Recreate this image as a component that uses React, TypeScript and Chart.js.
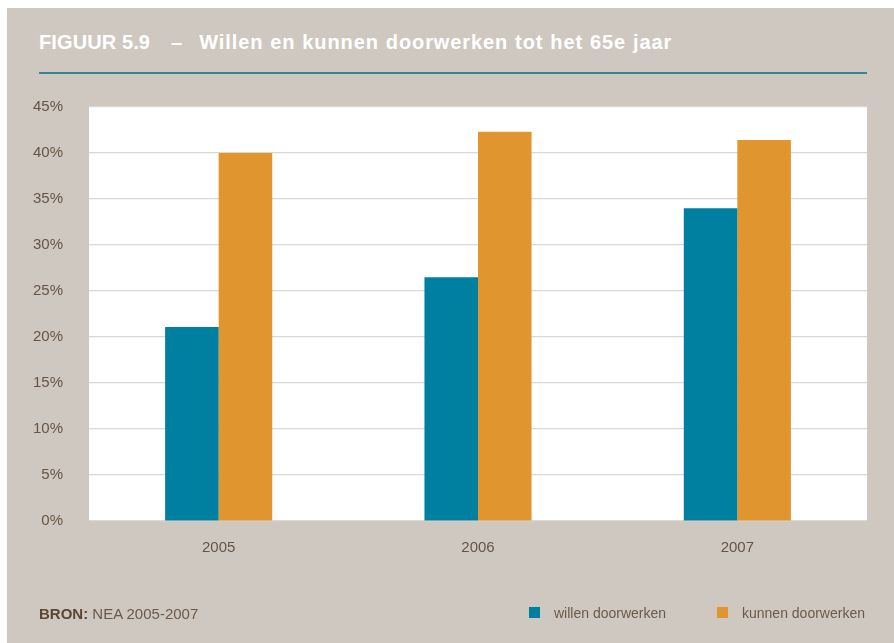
import React, { useEffect, useRef } from "react";
import { Chart, registerables } from "chart.js";

Chart.register(...registerables);

const categories = ["2005", "2006", "2007"];
const willenDoorwerken = [21.1, 26.5, 34.0];
const kunnenDoorwerken = [40.0, 42.3, 41.4];
const yTickValues = [0, 5, 10, 15, 20, 25, 30, 35, 40, 45];
const seriesLabels = ["willen doorwerken", "kunnen doorwerken"];

const BG = "#cfc8c1";
const TEAL = "#0080a0";
const ORANGE = "#e0952e";
const GRID = "#ddd7d1";
const TICK = "#645546";
const FONT = "'Liberation Sans', Arial, sans-serif";

const plotBg = {
  id: "plotBg",
  beforeDraw(chart: any) {
    const { ctx, chartArea } = chart;
    if (!chartArea) return;
    ctx.save();
    ctx.fillStyle = "#ffffff";
    ctx.fillRect(chartArea.left, chartArea.top, chartArea.right - chartArea.left, chartArea.bottom - chartArea.top);
    ctx.restore();
  },
};

export default function App() {
  const ref = useRef<HTMLCanvasElement>(null);
  useEffect(() => {
    const chart = new Chart(ref.current!, {
      type: "bar",
      data: {
        labels: categories,
        datasets: [
          { label: seriesLabels[0], data: willenDoorwerken, backgroundColor: TEAL, borderWidth: 0 },
          { label: seriesLabels[1], data: kunnenDoorwerken, backgroundColor: ORANGE, borderWidth: 0 },
        ],
      },
      options: {
        responsive: false,
        animation: false,
        layout: { padding: { left: 0, right: 27, top: 99, bottom: 0 } },
        plugins: { legend: { display: false }, tooltip: { enabled: false }, title: { display: false } },
        datasets: { bar: { barPercentage: 1, categoryPercentage: 0.413 } },
        scales: {
          x: {
            grid: { display: false, drawTicks: false },
            border: { display: false },
            ticks: { font: { family: FONT, size: 15 }, color: TICK, padding: 18 },
            afterFit: (s: any) => {
              s.height = 122;
            },
          },
          y: {
            min: 0,
            max: 45,
            afterBuildTicks: (s: any) => {
              s.ticks = yTickValues.map((v) => ({ value: v }));
            },
            ticks: {
              font: { family: FONT, size: 15 },
              color: TICK,
              padding: 26,
              callback: (v: any) => v + "%",
            },
            grid: { color: GRID, drawTicks: false, lineWidth: 1.2 },
            border: { display: false },
            afterFit: (s: any) => {
              s.width = 82;
            },
          },
        },
      },
      plugins: [plotBg],
    } as any);
    return () => chart.destroy();
  }, []);

  const legendText: React.CSSProperties = {
    position: "absolute",
    top: 598,
    fontFamily: FONT,
    fontSize: 14,
    lineHeight: "14px",
    color: "#6b5a4a",
    whiteSpace: "nowrap",
  };
  const sq: React.CSSProperties = { position: "absolute", top: 599, width: 11, height: 11 };

  return (
    <div
      style={{
        position: "absolute",
        left: 7,
        top: 8,
        width: 887,
        height: 635,
        background: BG,
        overflow: "hidden",
      }}
    >
      <div
        style={{
          position: "absolute",
          left: 32,
          top: 24,
          fontFamily: FONT,
          fontWeight: "bold",
          fontSize: 20,
          lineHeight: "20px",
          color: "#ffffff",
          whiteSpace: "nowrap",
        }}
      >
        <span style={{ letterSpacing: "0.1px" }}>FIGUUR 5.9</span>
        <span style={{ display: "inline-block", margin: "0 17px 0 21px" }}>–</span>
        <span style={{ letterSpacing: "0.9px", wordSpacing: "0.5px" }}>Willen en kunnen doorwerken tot het 65e jaar</span>
      </div>
      <div style={{ position: "absolute", left: 32, top: 64, width: 828, height: 2, background: "#2f8797" }} />
      <canvas ref={ref} width={887} height={635} style={{ position: "absolute", left: 0, top: 0, display: "block" }} />
      <div
        style={{
          position: "absolute",
          left: 32,
          top: 598,
          fontFamily: FONT,
          fontSize: 15,
          lineHeight: "15px",
          color: "#6b5a4a",
          whiteSpace: "nowrap",
        }}
      >
        <span style={{ fontWeight: "bold", color: "#5a4633" }}>BRON:</span> NEA 2005-2007
      </div>
      <div style={{ ...sq, left: 522, background: TEAL }} />
      <div style={{ ...legendText, left: 547 }}>{seriesLabels[0]}</div>
      <div style={{ ...sq, left: 710, background: ORANGE }} />
      <div style={{ ...legendText, left: 735 }}>{seriesLabels[1]}</div>
    </div>
  );
}
